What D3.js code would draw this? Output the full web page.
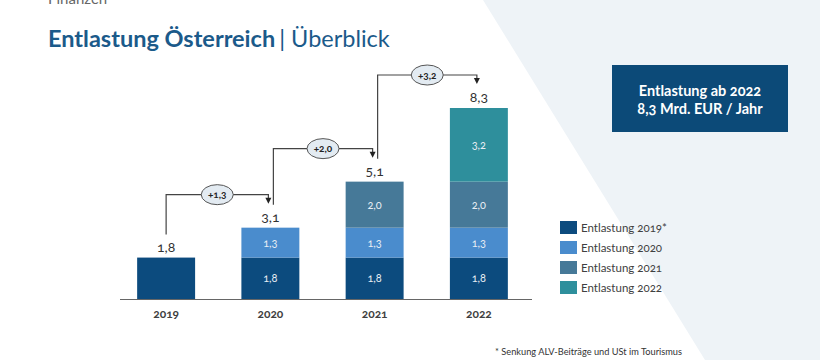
<!DOCTYPE html>
<html><head><meta charset="utf-8">
<script src="https://cdn.jsdelivr.net/npm/d3@7"></script>
<style>
html,body{margin:0;padding:0;background:#fff;}
svg{display:block;font-family:Lato,"Noto Sans",sans-serif;}
.num{font-feature-settings:"onum";}
</style></head>
<body><svg id="c" width="820" height="360"></svg>
<script>
const categories = ["2019", "2020", "2021", "2022"];
const seriesNames = ["Entlastung 2019*", "Entlastung 2020", "Entlastung 2021", "Entlastung 2022"];
const s2019 = [1.8, 1.8, 1.8, 1.8];
const s2020 = [0, 1.3, 1.3, 1.3];
const s2021 = [0, 0, 2.0, 2.0];
const s2022 = [0, 0, 0, 3.2];
const totals = [1.8, 3.1, 5.1, 8.3];
const increments = [1.3, 2.0, 3.2];
const colors = ["#0c4b7e", "#4a8ccd", "#467998", "#2e8f9c"];

const fmt = v => d3.format(".1f")(v).replace(".", ",");

const svg = d3.select("#c");

// background diagonal panel
svg.append("path").attr("d", "M483,0 L820,0 L820,360 L705,360 Z").attr("fill", "#eef3f7");

// header
svg.append("text").attr("x", 48).attr("y", 4).attr("font-size", 15).attr("fill", "#666").text("Finanzen");
const title = svg.append("text").attr("x", 48).attr("y", 47).attr("font-size", 23.5).attr("fill", "#1b5a8a");
title.append("tspan").attr("font-weight", 700).text("Entlastung Österreich");
title.append("tspan").attr("font-weight", 400).attr("dx", 4).text("| Überblick");

// scales
const x = d3.scaleBand().domain(categories).range([114, 531]).paddingInner(0.444).paddingOuter(0.222);
const y = d3.scaleLinear().domain([0, 8.3]).range([299, 108]);

const rows = categories.map((c, i) => ({cat: c, s0: s2019[i], s1: s2020[i], s2: s2021[i], s3: s2022[i]}));
const stack = d3.stack().keys(["s0", "s1", "s2", "s3"])(rows);

const g = svg.append("g");
stack.forEach((layer, li) => {
  layer.forEach((d, i) => {
    if (d[1] - d[0] <= 0) return;
    g.append("rect")
      .attr("x", x(categories[i])).attr("width", x.bandwidth())
      .attr("y", y(d[1])).attr("height", y(d[0]) - y(d[1]))
      .attr("fill", colors[li]);
    if (i > 0) {
      g.append("text").attr("class", "num")
        .attr("x", x(categories[i]) + x.bandwidth() / 2)
        .attr("y", (y(d[0]) + y(d[1])) / 2 + 4)
        .attr("text-anchor", "middle").attr("font-size", 11).attr("fill", "#e8eef4")
        .text(fmt(d[1] - d[0]));
    }
  });
});

// axis
const axis = d3.axisBottom(x).tickSize(0).tickPadding(10);
const ag = svg.append("g").attr("transform", "translate(0,299)").call(axis);
ag.select(".domain").remove();
ag.selectAll("text").attr("class", "num").attr("font-size", 12).attr("font-weight", 700)
  .attr("fill", "#404040").attr("font-family", "Lato,'Noto Sans',sans-serif");
svg.append("line").attr("x1", 120).attr("x2", 532).attr("y1", 299.5).attr("y2", 299.5)
  .attr("stroke", "#666").attr("stroke-width", 1);

// totals
totals.forEach((t, i) => {
  svg.append("text").attr("class", "num")
    .attr("x", x(categories[i]) + x.bandwidth() / 2).attr("y", y(t) - 6)
    .attr("text-anchor", "middle").attr("font-size", 14).attr("fill", "#333")
    .text(fmt(t));
});

// connectors
increments.forEach((inc, i) => {
  const cx0 = x(categories[i]) + x.bandwidth() / 2 + (i === 0 ? 0 : 3);
  const cx1 = x(categories[i + 1]) + x.bandwidth() / 2 - 2;
  const yStart = y(totals[i]) - 23;
  const yLevel = y(totals[i + 1]) - 33;
  const yEnd = y(totals[i + 1]) - 24;
  svg.append("path")
    .attr("d", `M${cx0},${yStart} V${yLevel} H${cx1} V${yEnd - 5}`)
    .attr("fill", "none").attr("stroke", "#444").attr("stroke-width", 1.2);
  svg.append("path")
    .attr("d", `M${cx1 - 3},${yEnd - 6} L${cx1 + 3},${yEnd - 6} L${cx1},${yEnd} Z`)
    .attr("fill", "#222");
  const ex = (cx0 + cx1) / 2;
  svg.append("ellipse").attr("cx", ex).attr("cy", yLevel).attr("rx", 16).attr("ry", 10)
    .attr("fill", "#e3ebf2").attr("stroke", "#555").attr("stroke-width", 1);
  svg.append("text").attr("class", "num").attr("x", ex).attr("y", yLevel + 3.5)
    .attr("text-anchor", "middle").attr("font-size", 10).attr("font-weight", 700).attr("fill", "#222")
    .text("+" + fmt(inc));
});

// legend
const lg = svg.append("g").attr("transform", "translate(560,221)");
seriesNames.forEach((n, i) => {
  lg.append("rect").attr("x", 0).attr("y", i * 20).attr("width", 17).attr("height", 13).attr("fill", colors[i]);
  lg.append("text").attr("class", "num").attr("x", 21).attr("y", i * 20 + 10.5)
    .attr("font-size", 11.5).attr("fill", "#404040").text(n);
});

// info box
svg.append("rect").attr("x", 612).attr("y", 65).attr("width", 176).attr("height", 67).attr("fill", "#0c4a78");
svg.append("text").attr("class", "num").attr("x", 700).attr("y", 96).attr("text-anchor", "middle")
  .attr("font-size", 14.5).attr("font-weight", 700).attr("fill", "#fff").text("Entlastung ab 2022");
svg.append("text").attr("class", "num").attr("x", 700).attr("y", 114).attr("text-anchor", "middle")
  .attr("font-size", 14.5).attr("font-weight", 700).attr("fill", "#fff").text("8,3 Mrd. EUR / Jahr");

// footnote
svg.append("text").attr("x", 495).attr("y", 355).attr("font-size", 9).attr("fill", "#333")
  .attr("textLength", 187).attr("lengthAdjust", "spacingAndGlyphs")
  .text("* Senkung ALV-Beiträge und USt im Tourismus");
</script></body></html>
